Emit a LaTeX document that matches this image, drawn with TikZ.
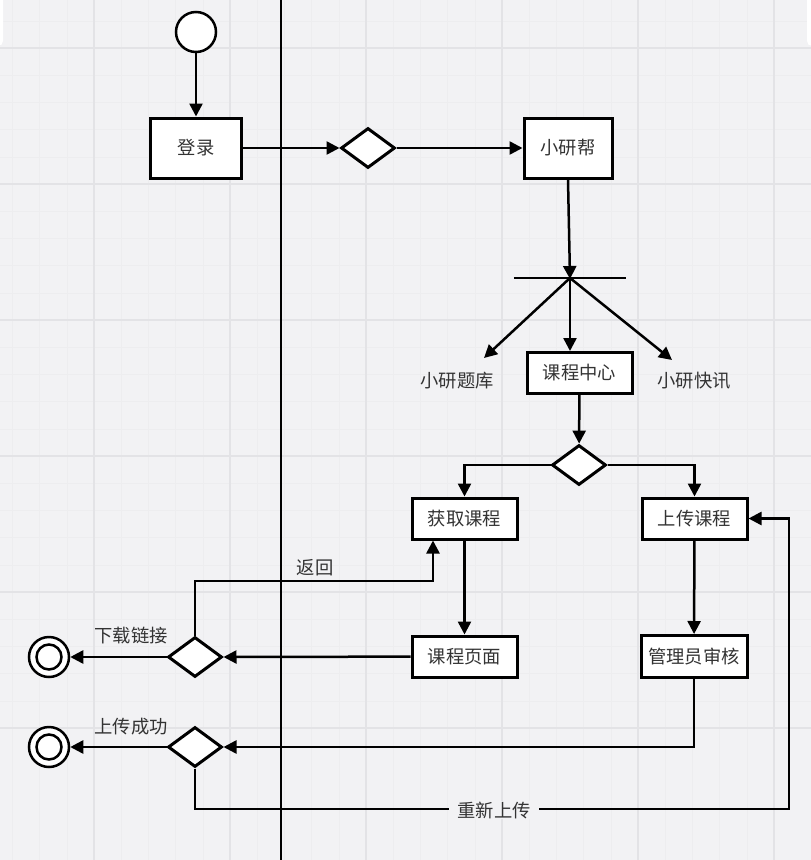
\documentclass[tikz,border=0pt]{standalone}
\usepackage{fontspec}
\newfontfamily\cjk{Noto Sans CJK SC}
\usetikzlibrary{arrows.meta,shapes.geometric,calc}
\definecolor{bgc}{HTML}{F2F2F4}
\definecolor{gmaj}{HTML}{E3E3E6}
\definecolor{gmin}{HTML}{EDEDEF}
\definecolor{txt}{HTML}{333333}
\begin{document}
\begin{tikzpicture}[x=1pt,y=-1pt,
  box/.style={draw=black,fill=white,line width=3pt,minimum width=105pt,minimum height=41pt,inner sep=0pt,font=\cjk\fontsize{18.3}{20}\selectfont,text=txt},
  dia/.style={draw=black,fill=white,line width=3pt,diamond,minimum width=54pt,minimum height=40pt,inner sep=0pt},
  lbl/.style={font=\cjk\fontsize{18.3}{20}\selectfont,text=txt,inner sep=1pt},
  conn/.style={line width=2.5pt,draw=black},
  arr/.style={conn,-{Triangle[length=13pt,width=13pt]}},
  endc/.style={circle,draw=black,line width=2.5pt,fill=white,minimum size=40pt,inner sep=0pt}]
\useasboundingbox (0,0) rectangle (811,860);
\fill[bgc] (0,0) rectangle (811,860);
% minor grid
\foreach \i in {0,...,30} {
  \draw[gmin,line width=0.6pt] ({94-136+27.2*\i},0) -- ({94-136+27.2*\i},860);
  \draw[gmin,line width=0.6pt] (0,{48-136+27.2*\i}) -- (811,{48-136+27.2*\i});
}
% major grid
\foreach \x in {94,230,366,502,638,774} \draw[gmaj,line width=1.2pt] (\x,0) -- (\x,860);
\foreach \y in {48,184,320,456,592,728} \draw[gmaj,line width=1.2pt] (0,\y) -- (811,\y);
% top panel edges
\fill[white,rounded corners=5pt] (-20,-10) rectangle (3,46);
\fill[white,rounded corners=5pt] (807,-10) rectangle (830,46);
% lane line
\coordinate (laneT) at (281,0);
\coordinate (laneB) at (281,860);
\draw[line width=2.5pt] (laneT) -- (laneB);

% nodes
\node[endc] (start) at (196,32) {};
\node[box,minimum width=91pt,minimum height=60pt] (login) at (196,148) {登录};
\node[dia] (d1) at (368,148) {};
\node[box,minimum width=88pt,minimum height=60pt] (xyb) at (568,148) {小研帮};
\node[minimum width=112pt,minimum height=0pt,inner sep=0pt] (bar) at (570,278) {};
\node[lbl] (tk) at (457,381) {小研题库};
\node[box,minimum height=41pt] (kczx) at (579.5,373) {课程中心};
\node[lbl] (kx) at (694,381) {小研快讯};
\coordinate (tkA) at (484,358);
\coordinate (kxA) at (672,360);
\node[dia] (d2) at (579,465) {};
\node[box] (hqkc) at (464.5,518.5) {获取课程};
\node[box] (sckc) at (694.5,518.5) {上传课程};
\node[box] (kcym) at (464.5,656.5) {课程页面};
\node[box,minimum width=106pt,minimum height=42pt] (gly) at (694,656.5) {管理员审核};
\node[dia] (d3) at (195,657) {};
\node[dia] (d4) at (195,747) {};
\node[endc] (e1) at (49,657) {};
\node[circle,draw=black,line width=2.5pt,minimum size=25pt,inner sep=0pt] (e1i) at (e1) {};
\node[endc] (e2) at (49,747) {};
\node[circle,draw=black,line width=2.5pt,minimum size=25pt,inner sep=0pt] (e2i) at (e2) {};
\node[lbl] (l1) at (131,636) {下载链接};
\node[lbl] (l2) at (131,727) {上传成功};
\node[lbl] (l3) at (315,568) {返回};
\coordinate (retL) at (195,581);
\coordinate (retR) at (433,581);
\coordinate (loopBL) at (195,809);
\coordinate (loopBR) at (789,809);
\coordinate (loopTR) at (789,518.5);

% connectors
\draw[arr] (start) -- (login);
\draw[arr] (login) -- (d1);
\draw[arr] (d1) -- (xyb);
\draw[conn] (bar.west) -- (bar.east);
\draw[arr,shorten >=-1pt] (xyb.south) -- (bar.center);
\draw[arr] (bar.center) -- (tkA);
\draw[arr] (bar.center) -- (kczx.north -| bar.center);
\draw[arr] (bar.center) -- (kxA);
\draw[arr] (kczx) -- (d2);
\draw[arr] (d2.west) -| (hqkc.north);
\draw[arr] (d2.east) -| (sckc.north);
\draw[arr] (hqkc) -- (kcym);
\draw[arr] (sckc) -- (gly);
\draw[arr] (kcym) -- (d3.east);
\draw[arr] (d3.west) -- (e1);
\draw[arr] (d3.north) -- (retL) -- (retR) -- (retR |- hqkc.south);
\draw[arr] (gly.south) |- (d4.east);
\draw[arr] (d4.west) -- (e2);
\draw[arr] (d4.south) -- (loopBL) -- (loopBR) -- (loopTR) -- (sckc.east);
\node[lbl,fill=bgc,inner xsep=8pt] (l4) at (494,810) {重新上传};
\end{tikzpicture}
\end{document}
